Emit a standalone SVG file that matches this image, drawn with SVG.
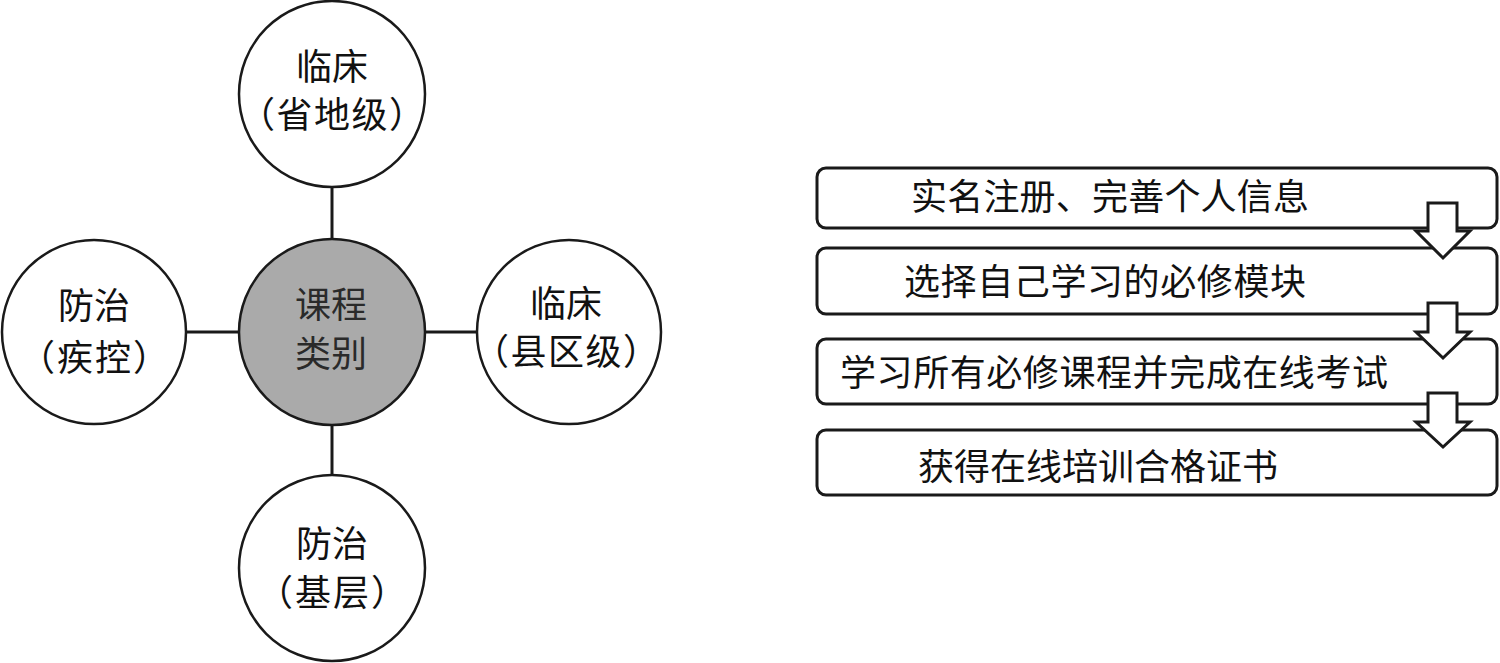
<svg xmlns="http://www.w3.org/2000/svg" width="1500" height="663" viewBox="0 0 1500 663">
<style>
.c{fill:#fff;stroke:#1a1a1a;stroke-width:2.5}
.hub{fill:#aaaaaa;stroke:#1a1a1a;stroke-width:2.5}
.t{font-family:"Liberation Serif","Noto Sans CJK SC",serif;font-size:36px;fill:#111;text-anchor:middle}
.ht{font-family:"Liberation Serif","Noto Sans CJK SC",serif;font-size:36px;fill:#2a2a2a;text-anchor:middle}
.bt{font-family:"Liberation Serif","Noto Sans CJK SC",serif;font-size:36px;fill:#111}
.box{fill:#fff;stroke:#1a1a1a;stroke-width:3}
.arr{fill:#fff;stroke:#1a1a1a;stroke-width:3;stroke-linejoin:miter}
.ln{stroke:#1a1a1a;stroke-width:3;fill:none}
</style>
<g id="connectors">
<line class="ln" x1="332" y1="187" x2="332" y2="240"/>
<line class="ln" x1="332" y1="424" x2="332" y2="475"/>
<line class="ln" x1="187" y1="332" x2="240" y2="332"/>
<line class="ln" x1="424" y1="332" x2="477" y2="332"/>
</g>
<g id="node-top">
<circle class="c" cx="332" cy="94" r="93"/>
<text class="t" x="332" y="80">临床</text>
<text class="t" x="332" y="128" textLength="186" lengthAdjust="spacing">（省地级）</text>
</g>
<g id="node-left">
<circle class="c" cx="94" cy="332" r="92"/>
<text class="t" x="94" y="319">防治</text>
<text class="t" x="94" y="371" textLength="150" lengthAdjust="spacing">（疾控）</text>
</g>
<g id="node-right">
<circle class="c" cx="569" cy="332" r="92"/>
<text class="t" x="566" y="317">临床</text>
<text class="t" x="566" y="365" textLength="186" lengthAdjust="spacing">（县区级）</text>
</g>
<g id="node-bottom">
<circle class="c" cx="332" cy="568" r="93"/>
<text class="t" x="332" y="557">防治</text>
<text class="t" x="332" y="606" textLength="150" lengthAdjust="spacing">（基层）</text>
</g>
<g id="node-hub">
<circle class="hub" cx="332" cy="332" r="93"/>
<text class="ht" x="331" y="318">课程</text>
<text class="ht" x="331" y="367">类别</text>
</g>
<g id="step1">
<rect class="box" x="817" y="168" width="680" height="60" rx="9"/>
<text class="bt" x="911" y="210" textLength="398" lengthAdjust="spacing">实名注册、完善个人信息</text>
</g>
<g id="step2">
<rect class="box" x="817" y="248" width="680" height="66" rx="9"/>
<text class="bt" x="904" y="295" textLength="402" lengthAdjust="spacing">选择自己学习的必修模块</text>
</g>
<g id="step3">
<rect class="box" x="817" y="339" width="680" height="65" rx="9"/>
<text class="bt" x="840" y="386" textLength="548" lengthAdjust="spacing">学习所有必修课程并完成在线考试</text>
</g>
<g id="step4">
<rect class="box" x="817" y="430" width="680" height="65" rx="9"/>
<text class="bt" x="918" y="480" textLength="360" lengthAdjust="spacing">获得在线培训合格证书</text>
</g>
<g id="arrows">
<polygon class="arr" points="1428,203 1457,203 1457,231 1470,231 1443,258 1416,231 1428,231"/>
<polygon class="arr" points="1428,303 1457,303 1457,332 1470,332 1443,358 1416,332 1428,332"/>
<polygon class="arr" points="1428,393 1457,393 1457,422 1470,422 1443,447 1416,422 1428,422"/>
</g>
</svg>
